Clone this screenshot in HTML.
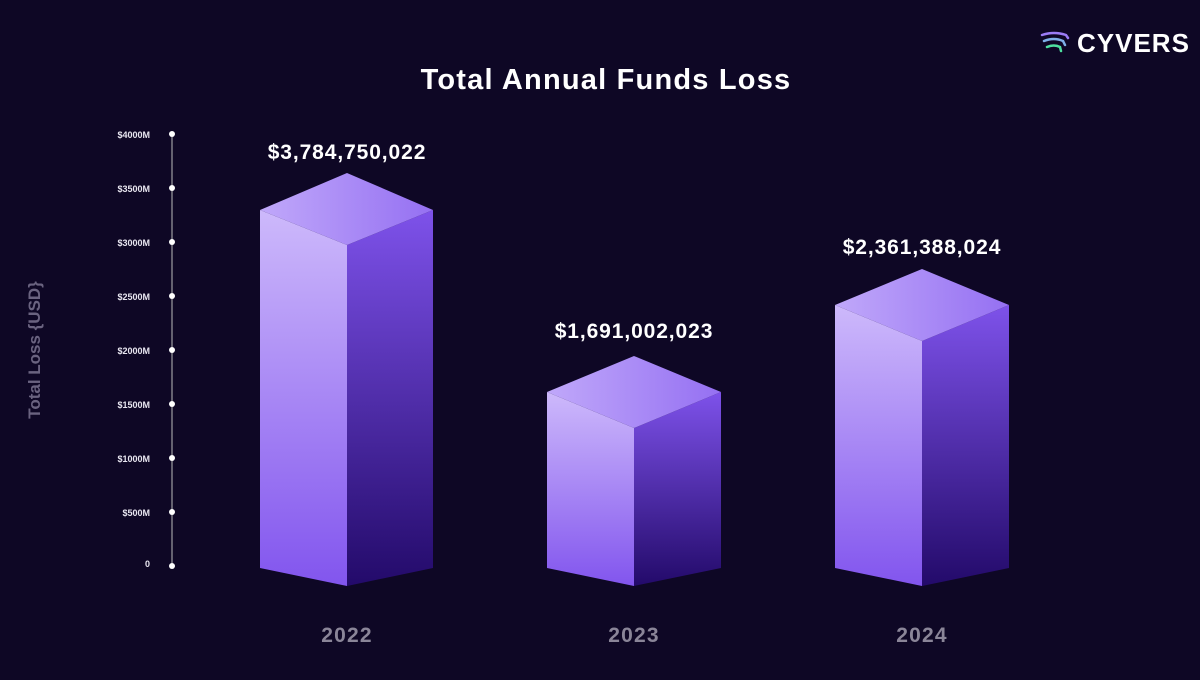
<!DOCTYPE html><html><head><style>
body{margin:0;width:1200px;height:675px;background:#0e0725;overflow:hidden;font-family:"Liberation Sans",sans-serif}
</style></head><body>
<svg width="1200" height="675" viewBox="0 0 1200 675" xmlns="http://www.w3.org/2000/svg">
<defs>
<linearGradient id="lf" x1="0" y1="0" x2="0" y2="1"><stop offset="0" stop-color="#cdb9fb"/><stop offset="1" stop-color="#8255ee"/></linearGradient>
<linearGradient id="rf" x1="0" y1="0" x2="0" y2="1"><stop offset="0" stop-color="#7e52ea"/><stop offset="1" stop-color="#230a6a"/></linearGradient>
<linearGradient id="tf" x1="0" y1="0" x2="1" y2="0"><stop offset="0" stop-color="#c0a8fa"/><stop offset="1" stop-color="#9570f2"/></linearGradient>
</defs>
<text x="606" y="89" fill="#fff" font-size="29" font-weight="bold" text-anchor="middle" letter-spacing="1.2">Total Annual Funds Loss</text>
<g fill="none" stroke-width="2.5" stroke-linecap="round">
<path d="M1042 35 Q1054 31 1066 35 L1068 38" stroke="#9b7cf5"/>
<path d="M1044 41 Q1054 37 1063 41 L1065 45" stroke="#7fb0e8"/>
<path d="M1047 47 Q1054 44 1060 47 L1061 51" stroke="#4fe0a0"/>
</g>
<text x="1077" y="52" fill="#fff" font-size="26" font-weight="bold" letter-spacing="1">CYVERS</text>
<text transform="translate(40,350) rotate(-90)" fill="#6a6380" font-size="17" font-weight="bold" text-anchor="middle">Total Loss {USD}</text>
<line x1="172" y1="134" x2="172" y2="566" stroke="#bbb" stroke-width="1"/>
<g fill="#fff">
<circle cx="172" cy="134" r="3"/><circle cx="172" cy="188" r="3"/><circle cx="172" cy="242" r="3"/><circle cx="172" cy="296" r="3"/><circle cx="172" cy="350" r="3"/><circle cx="172" cy="404" r="3"/><circle cx="172" cy="458" r="3"/><circle cx="172" cy="512" r="3"/><circle cx="172" cy="566" r="3"/>
</g>
<g fill="#e8e6f0" font-size="9" font-weight="bold" text-anchor="end">
<text x="150" y="138">$4000M</text><text x="150" y="192">$3500M</text><text x="150" y="246">$3000M</text><text x="150" y="300">$2500M</text><text x="150" y="354">$2000M</text><text x="150" y="408">$1500M</text><text x="150" y="462">$1000M</text><text x="150" y="516">$500M</text><text x="150" y="567">0</text>
</g>
<g>
<polygon points="260,210 347,245 347,586 260,568" fill="url(#lf)"/>
<polygon points="347,245 433,210 433,568 347,586" fill="url(#rf)"/>
<polygon points="260,210 347,173 433,210 347,245" fill="url(#tf)"/>
<polygon points="547,392 634,428 634,586 547,568" fill="url(#lf)"/>
<polygon points="634,428 721,392 721,568 634,586" fill="url(#rf)"/>
<polygon points="547,392 634,356 721,392 634,428" fill="url(#tf)"/>
<polygon points="835,305 922,341 922,586 835,568" fill="url(#lf)"/>
<polygon points="922,341 1009,305 1009,568 922,586" fill="url(#rf)"/>
<polygon points="835,305 922,269 1009,305 922,341" fill="url(#tf)"/>
</g>
<g fill="#fff" font-size="21" font-weight="bold" text-anchor="middle" letter-spacing="0.9">
<text x="347" y="159">$3,784,750,022</text><text x="634" y="338">$1,691,002,023</text><text x="922" y="254">$2,361,388,024</text>
</g>
<g fill="#8a8598" font-size="21" font-weight="bold" text-anchor="middle" letter-spacing="1.2">
<text x="347" y="642">2022</text><text x="634" y="642">2023</text><text x="922" y="642">2024</text>
</g>
</svg>
</body></html>
